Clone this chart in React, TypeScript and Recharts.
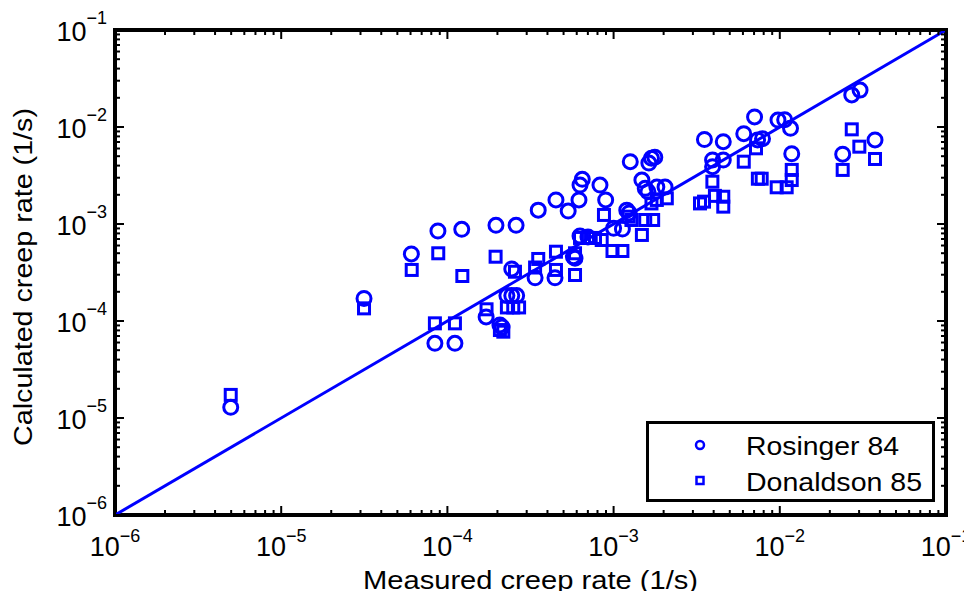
import React from 'react';
import { ScatterChart, Scatter, XAxis, YAxis, ReferenceLine, ReferenceArea, Legend, Label } from 'recharts';

// ---------- data ----------
const rosingerMeasured = [
  4.97e-6, 3.15e-5, 6.07e-5, 8.77e-5, 1.22e-4, 8.41e-5, 1.11e-4, 1.96e-4, 2.59e-4, 3.52e-4,
  4.5e-4, 5.33e-4, 6.19e-4, 6.48e-4, 6.28e-4, 8.28e-4, 8.96e-4, 1.26e-3, 1.69e-3, 1.77e-3,
  1.63e-3, 1.48e-3, 1.55e-3, 1.82e-3, 2.04e-3, 1.61e-3, 1.2e-3, 1.24e-3, 1.0e-3, 1.13e-3,
  5.73e-4, 5.86e-4, 2.44e-4, 3.37e-4, 4.44e-4, 2.44e-4, 2.61e-4, 1.71e-4, 2.07e-4, 2.13e-4,
  6.28e-4, 7.01e-4, 3.52e-3, 4.57e-3, 3.94e-3, 4.57e-3, 3.94e-3, 6.07e-3, 7.05e-3, 7.35e-3,
  7.87e-3, 9.75e-3, 1.07e-2, 1.16e-2, 1.18e-2, 2.71e-2, 3.04e-2, 2.39e-2, 3.74e-2, 2.28e-4,
];
const rosingerCalculated = [
  1.29e-5, 1.71e-4, 4.91e-4, 8.47e-4, 8.81e-4, 5.89e-5, 5.89e-5, 9.7e-4, 9.7e-4, 1.39e-3,
  1.77e-3, 1.36e-3, 1.77e-3, 2.89e-3, 2.52e-3, 2.52e-3, 1.77e-3, 4.39e-3, 4.75e-3, 4.88e-3,
  4.25e-3, 2.84e-3, 2.33e-3, 2.4e-3, 2.4e-3, 2.15e-3, 1.39e-3, 1.3e-3, 9.04e-4, 8.87e-4,
  4.6e-4, 4.43e-4, 3.44e-4, 2.79e-4, 2.79e-4, 1.83e-4, 1.83e-4, 1.1e-4, 9.1e-5, 8.67e-5,
  7.52e-4, 7.35e-4, 7.43e-3, 7.05e-3, 4.57e-3, 4.57e-3, 3.9e-3, 8.53e-3, 1.27e-2, 7.35e-3,
  7.57e-3, 1.18e-2, 1.19e-2, 9.7e-3, 5.3e-3, 2.14e-2, 2.4e-2, 5.24e-3, 7.35e-3, 1.83e-4,
];
const donaldsonMeasured = [
  4.97e-6, 3.15e-5, 6.1e-5, 8.81e-5, 1.23e-4, 1.95e-4, 2.55e-4, 3.52e-4, 4.5e-4, 3.37e-4,
  4.5e-4, 5.86e-4, 5.86e-4, 6.28e-4, 7.01e-4, 7.73e-4, 8.48e-4, 8.75e-4, 9.85e-4, 1.13e-3,
  1.23e-3, 1.28e-3, 1.48e-3, 1.55e-3, 1.73e-3, 1.69e-3, 1.82e-3, 2.09e-3, 3.31e-3, 8.41e-5,
  1.11e-4, 1.72e-4, 2.07e-4, 2.17e-4, 2.28e-4, 2.49e-4, 2.7e-4, 3.93e-3, 3.5e-3, 4.07e-3,
  4.57e-3, 4.57e-3, 6.07e-3, 7.19e-3, 7.38e-3, 7.78e-3, 9.58e-3, 1.1e-2, 1.18e-2, 1.18e-2,
  2.71e-2, 3.01e-2, 2.39e-2, 3.74e-2,
];
const donaldsonCalculated = [
  1.73e-5, 1.35e-4, 3.36e-4, 4.99e-4, 2.91e-4, 4.6e-4, 3.22e-4, 4.36e-4, 5.18e-4, 3.56e-4,
  3.36e-4, 2.98e-4, 4.99e-4, 7.18e-4, 7.18e-4, 7.18e-4, 6.84e-4, 1.24e-3, 5.27e-4, 5.27e-4,
  1.19e-3, 1.1e-3, 7.71e-4, 1.1e-3, 1.1e-3, 1.63e-3, 1.77e-3, 1.84e-3, 1.63e-3, 9.46e-5,
  9.46e-5, 1.32e-4, 8.07e-5, 7.76e-5, 1.38e-4, 1.38e-4, 1.38e-4, 2.73e-3, 1.7e-3, 1.95e-3,
  1.91e-3, 1.51e-3, 4.39e-3, 6.03e-3, 2.93e-3, 2.93e-3, 2.39e-3, 2.39e-3, 3.61e-3, 2.84e-3,
  9.46e-3, 6.27e-3, 3.61e-3, 4.68e-3,
];
const parityLine = [1e-6, 1e-1];
const decadeTicks = [1e-6, 1e-5, 1e-4, 1e-3, 1e-2, 1e-1];
const minorMultipliers = [2, 3, 4, 5, 6, 7, 8, 9];
const seriesNames = ['Rosinger 84', 'Donaldson 85'];
const xTitle = 'Measured creep rate (1/s)';
const yTitle = 'Calculated creep rate (1/s)';

// ---------- derived tables ----------
const rosingerData = rosingerMeasured.map((x, i) => ({ x, y: rosingerCalculated[i] }));
const donaldsonData = donaldsonMeasured.map((x, i) => ({ x, y: donaldsonCalculated[i] }));
const allTicks: number[] = [];
decadeTicks.forEach((d, i) => {
  allTicks.push(d);
  if (i < decadeTicks.length - 1) minorMultipliers.forEach((m) => allTicks.push(d * m));
});

// ---------- layout (chart occupies the full 972x599 page) ----------
const W = 972;
const H = 599;
const MARGIN = { top: 30, right: 26, left: 0, bottom: 0 };
const Y_AXIS_W = 115;
const X_AXIS_H = 84;
const PL = MARGIN.left + Y_AXIS_W;
const PR = W - MARGIN.right;
const PT = MARGIN.top;
const PB = H - MARGIN.bottom - X_AXIS_H;
const BLUE = '#0000ff';
const FONT = '"Liberation Sans", Arial, Helvetica, sans-serif';

const isMajor = (v: number) => decadeTicks.some((d) => Math.abs(v / d - 1) < 1e-6);
const expText = (v: number) => '\u2212' + Math.abs(Math.round(Math.log10(v)));

const XTick = (props: any) => {
  const { x, payload } = props;
  const v = payload.value;
  const major = isMajor(v);
  const len = major ? 9 : 5;
  return (
    <g>
      <line x1={x} x2={x} y1={PB} y2={PB - len} stroke="#000" strokeWidth={2} />
      <line x1={x} x2={x} y1={PT} y2={PT + len} stroke="#000" strokeWidth={2} />
      {major && (
        <text x={x} y={PB + 41} textAnchor="middle" fontFamily={FONT} fill="#000">
          <tspan fontSize={27}>10</tspan>
          <tspan fontSize={18} dy={-14}>{expText(v)}</tspan>
        </text>
      )}
    </g>
  );
};

const YTick = (props: any) => {
  const { y, payload } = props;
  const v = payload.value;
  const major = isMajor(v);
  const len = major ? 9 : 5;
  return (
    <g>
      <line x1={PL} x2={PL + len} y1={y} y2={y} stroke="#000" strokeWidth={2} />
      <line x1={PR} x2={PR - len} y1={y} y2={y} stroke="#000" strokeWidth={2} />
      {major && (
        <text x={PL - 8} y={y + 11} textAnchor="end" fontFamily={FONT} fill="#000">
          <tspan fontSize={27}>10</tspan>
          <tspan fontSize={18} dy={-17}>{expText(v)}</tspan>
        </text>
      )}
    </g>
  );
};

const XTitle = () => (
  <text x={(PL + PR) / 2} y={PB + 74} textAnchor="middle" fontFamily={FONT} fontSize={26}
    fill="#000" textLength={335} lengthAdjust="spacingAndGlyphs">{xTitle}</text>
);

const YTitle = () => {
  const cx = 32;
  const cy = 277;
  return (
    <text x={cx} y={cy} textAnchor="middle" fontFamily={FONT} fontSize={26} fill="#000"
      transform={`rotate(-90 ${cx} ${cy})`} textLength={338} lengthAdjust="spacingAndGlyphs">{yTitle}</text>
  );
};

const CircleMark = (p: any) => (
  <circle cx={p.cx} cy={p.cy} r={7} fill="none" stroke={BLUE} strokeWidth={3} />
);
const SquareMark = (p: any) => (
  <rect x={p.cx - 5.5} y={p.cy - 5.5} width={11} height={11} fill="none" stroke={BLUE} strokeWidth={3} />
);

const legendTextWidths: Record<string, number> = { 'Rosinger 84': 153, 'Donaldson 85': 176 };

const LegendBox = (props: any) => {
  const payload = [...(props.payload || [])].sort(
    (a: any, b: any) => seriesNames.indexOf(a.value) - seriesNames.indexOf(b.value)
  );
  return (
    <svg width={289} height={81} style={{ display: 'block' }}>
      <rect x={1.5} y={1.5} width={286} height={78} fill="#fff" stroke="#000" strokeWidth={3} />
      {payload.map((entry: any, i: number) => {
        const cy = 24 + i * 35.5;
        const isCircle = entry.value === seriesNames[0];
        return (
          <g key={entry.value}>
            {isCircle ? (
              <circle cx={54} cy={cy} r={4} fill="none" stroke={BLUE} strokeWidth={2.5} />
            ) : (
              <rect x={50.5} y={cy - 3.5} width={7} height={7} fill="none" stroke={BLUE} strokeWidth={2.5} />
            )}
            <text x={100} y={cy + 10} fontFamily={FONT} fontSize={25} fill="#000"
              textLength={legendTextWidths[entry.value]} lengthAdjust="spacingAndGlyphs">{entry.value}</text>
          </g>
        );
      })}
    </svg>
  );
};

export default function App() {
  return (
    <div style={{ margin: '-8px', width: W, height: H }}>
      <ScatterChart width={W} height={H} margin={MARGIN}>
        <XAxis
          type="number"
          dataKey="x"
          scale="log"
          domain={[1e-6, 1e-1]}
          allowDataOverflow
          ticks={allTicks}
          interval={0}
          tick={(p: any) => <XTick {...p} />}
          tickLine={false}
          axisLine={false}
          tickSize={0}
          tickMargin={0}
          height={X_AXIS_H}
          label={<Label content={() => <XTitle />} />}
        />
        <YAxis
          type="number"
          dataKey="y"
          scale="log"
          domain={[1e-6, 1e-1]}
          allowDataOverflow
          ticks={allTicks}
          interval={0}
          tick={(p: any) => <YTick {...p} />}
          tickLine={false}
          axisLine={false}
          tickSize={0}
          tickMargin={0}
          width={Y_AXIS_W}
          label={<Label content={() => <YTitle />} />}
        />
        <ReferenceLine
          segment={[{ x: parityLine[0], y: parityLine[0] }, { x: parityLine[1], y: parityLine[1] }]}
          stroke={BLUE}
          strokeWidth={3}
          ifOverflow="visible"
        />
        <Scatter name={seriesNames[0]} data={rosingerData} shape={CircleMark} isAnimationActive={false} />
        <Scatter name={seriesNames[1]} data={donaldsonData} shape={SquareMark} isAnimationActive={false} />
        <ReferenceArea
          x1={1e-6}
          x2={1e-1}
          y1={1e-6}
          y2={1e-1}
          fill="none"
          fillOpacity={0}
          stroke="#000"
          strokeWidth={4}
          ifOverflow="visible"
        />
        <Legend
          layout="horizontal"
          verticalAlign="middle"
          align="center"
          content={LegendBox}
          wrapperStyle={{ left: 646, top: 421, width: 289, height: 81 }}
        />
      </ScatterChart>
    </div>
  );
}
